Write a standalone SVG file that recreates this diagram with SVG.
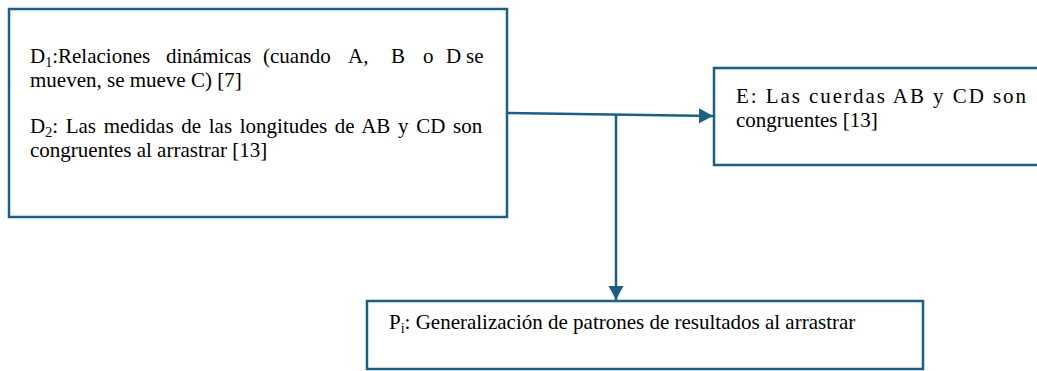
<svg xmlns="http://www.w3.org/2000/svg" width="1037" height="371" viewBox="0 0 1037 371" font-family="'Liberation Serif'">
  <defs>
    <marker id="arrow" markerUnits="userSpaceOnUse" markerWidth="16" markerHeight="16" refX="14" refY="8" orient="auto">
      <path d="M0,0.5 L14,8 L0,15.5 Z" fill="#1c5f82"/>
    </marker>
  </defs>
  <rect width="1037" height="371" fill="#ffffff"/>
  <g font-size="21" fill="#000">
  <g id="node-d">
    <rect x="9" y="9" width="498" height="208" fill="#ffffff" stroke="#1c5f82" stroke-width="2.5"/>
    <text font-family="'Liberation Serif'" y="63"><tspan x="30">D</tspan><tspan font-size="14" dy="4">1</tspan><tspan dy="-4">:Relaciones</tspan><tspan x="166">dinámicas</tspan><tspan x="263">(cuando</tspan><tspan x="348">A,</tspan><tspan x="391">B</tspan><tspan x="423">o</tspan><tspan x="446">D</tspan><tspan x="466">se</tspan></text>
    <text font-family="'Liberation Serif'" x="30" y="87">mueven, se mueve C) [7]</text>
    <text font-family="'Liberation Serif'" y="133"><tspan x="30">D</tspan><tspan font-size="14" dy="4">2</tspan><tspan dy="-4" word-spacing="2.4">: Las medidas de las longitudes de AB y CD son</tspan></text>
    <text font-family="'Liberation Serif'" x="30" y="157">congruentes al arrastrar [13]</text>
  </g>
  <g id="node-e">
    <rect x="714" y="68" width="340" height="97" fill="#ffffff" stroke="#1c5f82" stroke-width="2.5"/>
    <text font-family="'Liberation Serif'" x="736" y="103" textLength="290" lengthAdjust="spacing">E: Las cuerdas AB y CD son</text>
    <text font-family="'Liberation Serif'" x="736" y="127">congruentes [13]</text>
  </g>
  <g id="node-p">
    <rect x="367" y="301" width="556" height="68" fill="#ffffff" stroke="#1c5f82" stroke-width="2.5"/>
    <text font-family="'Liberation Serif'" y="329"><tspan x="389">P</tspan><tspan font-size="14" dy="4">i</tspan><tspan dy="-4">: Generalización de patrones de resultados al arrastrar</tspan></text>
  </g>
  </g>
  <g id="connectors" fill="none" stroke="#1c5f82" stroke-width="2.5">
    <path d="M507,113 L713,116" marker-end="url(#arrow)"/>
    <path d="M616,114.5 L616,300" marker-end="url(#arrow)"/>
  </g>
</svg>
